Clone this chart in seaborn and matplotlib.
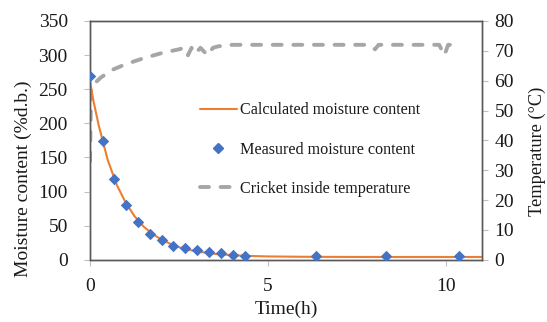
import matplotlib
matplotlib.use("Agg")
import matplotlib.pyplot as plt
import seaborn as sns
import pandas as pd
from matplotlib.lines import Line2D

# ---- data ----
meas_time = [0, 0.36, 0.67, 1.01, 1.34, 1.69, 2.02, 2.32, 2.67, 3.0, 3.33, 3.67, 4.02, 4.35, 6.35, 8.31, 10.35]
meas_mc = [270, 174, 118, 80, 56, 38, 29, 21, 17, 14, 11, 9.5, 7.5, 6, 5, 5, 5]

calc_time = [0, 0.1, 0.25, 0.5, 0.75, 1.0, 1.25, 1.5, 1.75, 2.0, 2.25, 2.5, 2.75, 3.0, 3.5, 4.0, 4.5, 5.0, 6.0, 7.0, 8.0, 9.0, 10.0, 11.0]
calc_mc = [262, 232, 196, 146, 110, 84, 64, 49, 38, 30, 23.5, 18.5, 15, 12.3, 8.8, 6.8, 5.7, 5.0, 4.5, 4.3, 4.2, 4.2, 4.2, 4.2]

temp_time = [0, 0.03, 0.3, 0.6, 1.0, 1.5, 2.0, 2.5, 2.65, 2.75, 2.85, 2.95, 3.1, 3.3, 3.45, 3.6, 4.0, 5.0, 6.0, 7.0,
             7.8, 8.0, 8.1, 9.0, 9.8, 9.95, 10.05, 10.35]
temp_c = [33, 58, 61, 63.5, 65.5, 67.5, 69.2, 70.5, 71, 68.5, 71, 69, 71, 68.5, 71, 71.5, 72, 72, 72, 72,
          72, 70.5, 72, 72, 72, 68.5, 72, 72]

labels = ["Calculated moisture content", "Measured moisture content", "Cricket inside temperature"]

orange = "#ED7D31"
blue = "#4472C4"
gray = "#A6A6A6"
spine_c = "#595959"
txt_c = "#1a1a1a"
dash = (0, (2.3, 3.0))
tlw = 2.8

sns.set_theme(style="white")
plt.rcParams["font.family"] = ["Liberation Serif", "DejaVu Serif"]

fig = plt.figure(figsize=(5.47, 3.22), dpi=100)
ax = fig.add_axes([0.1645, 0.193, 0.7165, 0.742])
ax2 = ax.twinx()

calc_df = pd.DataFrame({"t": calc_time, "mc": calc_mc})
meas_df = pd.DataFrame({"t": meas_time, "mc": meas_mc})
temp_df = pd.DataFrame({"t": temp_time, "T": temp_c})

sns.lineplot(data=temp_df, x="t", y="T", ax=ax2, color=gray, linewidth=tlw,
             linestyle=dash, dash_capstyle="round", sort=False, zorder=1)
sns.lineplot(data=calc_df, x="t", y="mc", ax=ax, color=orange, linewidth=1.5, zorder=2)
sns.scatterplot(data=meas_df, x="t", y="mc", ax=ax, color=blue, marker="D", s=34,
                edgecolor=blue, linewidth=0, zorder=3)

ax.set_zorder(ax2.get_zorder() + 1)
ax.patch.set_visible(False)

ax.set_xlim(0, 11)
ax.set_ylim(0, 350)
ax2.set_ylim(0, 80)
ax.set_xticks([0, 5, 10])
ax.set_yticks(range(0, 351, 50))
ax2.set_yticks(range(0, 81, 10))

fs = 14
ax.tick_params(axis="y", labelsize=fs, length=4, width=0.8, color="#BFBFBF",
               direction="out", pad=12, left=True, labelcolor=txt_c)
ax.tick_params(axis="x", labelsize=fs, length=4, width=0.8, color="#BFBFBF",
               direction="out", pad=9, bottom=True, labelcolor=txt_c)
ax2.tick_params(axis="y", labelsize=fs, length=4, width=0.8, color="#BFBFBF",
                direction="out", pad=5, right=True, labelcolor=txt_c)

ax.set_xlabel("Time(h)", fontsize=fs, color=txt_c, labelpad=4)
ax.set_ylabel("Moisture content (%d.b.)", fontsize=fs, color=txt_c, va="center")
ax.yaxis.set_label_coords(-0.171, 0.34)
ax2.set_ylabel("Temperature (°C)", fontsize=13.2, color=txt_c, va="center")
ax2.yaxis.set_label_coords(1.142, 0.456)

for a in (ax, ax2):
    for s in a.spines.values():
        s.set_color(spine_c)
        s.set_linewidth(1.0)
        s.set_visible(True)

handles = [
    Line2D([], [], color=orange, linewidth=1.5),
    Line2D([], [], color=blue, marker="D", markersize=5.5, linestyle="none"),
    Line2D([], [], color=gray, linewidth=tlw, linestyle=dash, dash_capstyle="round"),
]
leg = ax.legend(handles, labels, loc="upper left", bbox_to_anchor=(0.28, 0.66),
                frameon=False, fontsize=11.6, handlelength=2.3, handletextpad=0.2,
                labelspacing=1.45, borderpad=0, borderaxespad=0)
for t in leg.get_texts():
    t.set_color(txt_c)

fig.savefig("out.png", dpi=100)
